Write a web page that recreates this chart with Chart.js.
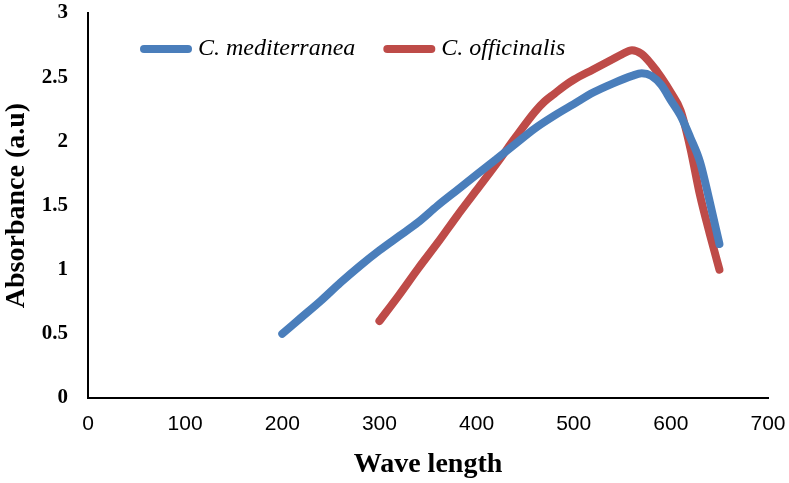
<!DOCTYPE html>
<html>
<head>
<meta charset="utf-8">
<script src="https://cdn.jsdelivr.net/npm/chart.js@4"></script>
<style>
  html, body { margin: 0; padding: 0; background: #fff; }
  #wrap { width: 789px; height: 483px; }
</style>
</head>
<body>
<div id="wrap"><canvas id="chart"></canvas></div>
<script>
// Data
const seriesNames = ['C. mediterranea', 'C. officinalis'];
const seriesColors = ['#4a7ebb', '#be4b48'];

const medX = [200, 220, 240, 260, 280, 300, 320, 340, 360, 380, 400, 420, 440, 460, 480, 500, 520, 540, 560, 570, 580, 590, 600, 610, 620, 630, 640, 650];
const medY = [0.5, 0.63, 0.76, 0.9, 1.03, 1.15, 1.26, 1.37, 1.5, 1.62, 1.74, 1.86, 1.98, 2.1, 2.2, 2.29, 2.38, 2.45, 2.51, 2.53, 2.51, 2.44, 2.32, 2.2, 2.03, 1.84, 1.53, 1.2];

const offX = [300, 320, 340, 360, 380, 400, 420, 440, 460, 470, 480, 490, 500, 520, 540, 550, 560, 570, 580, 590, 600, 610, 620, 630, 640, 650];
const offY = [0.6, 0.8, 1.01, 1.21, 1.42, 1.62, 1.82, 2.03, 2.23, 2.31, 2.37, 2.43, 2.48, 2.56, 2.64, 2.68, 2.71, 2.68, 2.6, 2.5, 2.38, 2.24, 1.95, 1.58, 1.28, 1.0];

const xTicks = [0, 100, 200, 300, 400, 500, 600, 700];
const yTicks = [0, 0.5, 1, 1.5, 2, 2.5, 3];

function toPoints(xs, ys) {
  return xs.map((x, i) => ({ x: x, y: ys[i] }));
}

// Legend drawn inside the plot, like the original
const insideLegend = {
  id: 'insideLegend',
  afterDraw(chart) {
    const ctx = chart.ctx;
    const area = chart.chartArea;
    const y = 49;
    let x = area.left + 56;
    ctx.save();
    ctx.font = 'italic 24px "Liberation Serif"';
    ctx.textBaseline = 'middle';
    chart.data.datasets.forEach(ds => {
      ctx.strokeStyle = ds.borderColor;
      ctx.lineWidth = 8;
      ctx.lineCap = 'round';
      ctx.beginPath();
      ctx.moveTo(x, y);
      ctx.lineTo(x + 44, y);
      ctx.stroke();
      ctx.fillStyle = '#000';
      ctx.fillText(ds.label, x + 54, y);
      x += 54 + ctx.measureText(ds.label).width + 32;
    });
    ctx.restore();
  }
};

const chart = new Chart(document.getElementById('chart'), {
  type: 'line',
  data: {
    datasets: [
      {
        label: seriesNames[0],
        data: toPoints(medX, medY),
        borderColor: seriesColors[0],
        borderWidth: 8,
        borderCapStyle: 'round',
        borderJoinStyle: 'round',
        pointRadius: 0,
        cubicInterpolationMode: 'monotone',
        fill: false,
      },
      {
        label: seriesNames[1],
        data: toPoints(offX, offY),
        borderColor: seriesColors[1],
        borderWidth: 8,
        borderCapStyle: 'round',
        borderJoinStyle: 'round',
        pointRadius: 0,
        cubicInterpolationMode: 'monotone',
        fill: false,
      },
    ],
  },
  options: {
    responsive: true,
    maintainAspectRatio: false,
    animation: false,
    layout: {
      padding: 0,
    },
    plugins: {
      legend: { display: false },
      tooltip: { enabled: false },
    },
    scales: {
      x: {
        type: 'linear',
        min: 0,
        max: 700,
        afterBuildTicks: axis => { axis.ticks = xTicks.map(v => ({ value: v })); },
        afterFit: axis => {
          axis.height = 85;
          axis.paddingLeft = 0;
          axis.paddingRight = 21;
        },
        grid: { display: false },
        border: { display: true, color: '#000', width: 2 },
        ticks: {
          color: '#000',
          padding: 6,
          maxRotation: 0,
          font: { family: '"Liberation Sans"', size: 21 },
        },
        title: {
          display: true,
          text: 'Wave length',
          color: '#000',
          padding: { top: 3, bottom: 1 },
          font: { family: '"Liberation Serif"', size: 28, weight: 'bold' },
        },
      },
      y: {
        type: 'linear',
        min: 0,
        max: 3,
        afterBuildTicks: axis => { axis.ticks = yTicks.map(v => ({ value: v })); },
        afterFit: axis => {
          axis.width = 88;
          axis.paddingTop = 13;
          axis.paddingBottom = 0;
        },
        grid: { display: false },
        border: { display: true, color: '#000', width: 2 },
        ticks: {
          color: '#000',
          padding: 12,
          callback: v => String(v),
          font: { family: '"Liberation Serif"', size: 21, weight: 'bold' },
        },
        title: {
          display: true,
          text: 'Absorbance (a.u)',
          color: '#000',
          padding: { top: 0, bottom: 2 },
          font: { family: '"Liberation Serif"', size: 28, weight: 'bold' },
        },
      },
    },
  },
  plugins: [insideLegend],
});
</script>
</body>
</html>
